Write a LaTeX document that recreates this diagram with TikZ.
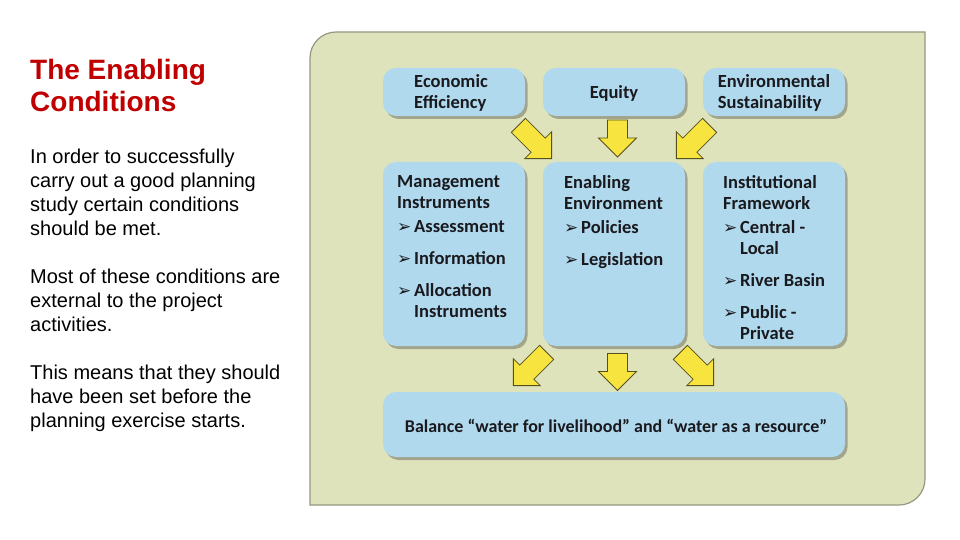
\documentclass[tikz,border=0pt]{standalone}
\usepackage{fontspec}
\setmainfont{Liberation Sans}
\newfontfamily\boxfont{Carlito}
\newfontfamily\symfont{DejaVu Sans}
\usetikzlibrary{shadows,calc}
\definecolor{titlered}{RGB}{192,0,0}
\definecolor{panelfill}{RGB}{222,227,188}
\definecolor{panelline}{RGB}{150,152,128}
\definecolor{boxblue}{RGB}{176,217,238}
\definecolor{arrowyellow}{RGB}{247,228,62}
\definecolor{arrowline}{RGB}{85,80,30}
\definecolor{boxtext}{RGB}{25,25,30}
\newcommand{\bul}{\makebox[17pt][l]{\symfont\fontsize{17}{17}\selectfont\char"27A2}}
\tikzset{
  box/.style={fill=boxblue, rounded corners=13pt, inner sep=0pt,
    drop shadow={shadow xshift=2.5pt, shadow yshift=-3pt, opacity=0.35, fill=black!80}},
  boxtxt/.style={text=boxtext, align=left, inner sep=0pt,
    font=\boxfont\bfseries\fontsize{18.5}{21}\selectfont},
  arrowstyle/.style={fill=arrowyellow, draw=arrowline, line width=0.8pt, line join=miter},
  blockarrow/.pic={
    \draw[arrowstyle] (-#1/2,-10) -- (#1/2-19,-10) -- (#1/2-19,-19) -- (#1/2,0)
      -- (#1/2-19,19) -- (#1/2-19,10) -- (-#1/2,10) -- cycle;}
}
\begin{document}
\begin{tikzpicture}[x=1pt,y=-1pt]
\useasboundingbox (0,0) rectangle (960,540);
\fill[white] (0,0) rectangle (960,540);

% left text
\node[anchor=base west, inner sep=0pt, align=left, text=titlered,
      font=\bfseries\fontsize{28}{32}\selectfont] (title) at (30,112)
      {The Enabling\\Conditions};
\node[anchor=north west, inner sep=0pt, align=left, text=black,
      font=\fontsize{20}{24}\selectfont] (body) at (30,149)
      {In order to successfully\\carry out a good planning\\study certain conditions\\should be met.\\[24pt]
       Most of these conditions are\\external to the project\\activities.\\[24pt]
       This means that they should\\have been set before the\\planning exercise starts.};

% panel
\draw[fill=panelfill, draw=panelline, line width=1.2pt]
  (310,505) -- (310,58) arc[start angle=180, end angle=270, radius=26]
  -- (925,32) -- (925,479) arc[start angle=0, end angle=90, radius=26] -- cycle;

% top row
\node[box, minimum width=142pt, minimum height=48pt] (eco) at (454,92) {};
\node[boxtxt] (ecot) at ($(eco.center)+(-3,1)$) {Economic\\Efficiency};
\node[box, minimum width=142pt, minimum height=48pt] (equ) at (614,92) {};
\node[boxtxt] (equt) at ($(equ.center)+(0,1)$) {Equity};
\node[box, minimum width=142pt, minimum height=48pt] (env) at (774,92) {};
\node[boxtxt] (envt) at ($(env.center)+(0,1)$) {Environmental\\Sustainability};

% middle row
\node[box, minimum width=142pt, minimum height=184pt] (mgmt) at (454,254) {};
\node[boxtxt, anchor=north west] (mgmtt) at (397,175)
  {Management\\Instruments\\[3pt]\bul Assessment\\[11pt]\bul Information\\[11pt]\bul Allocation\\\hspace*{17pt}Instruments};
\node[box, minimum width=142pt, minimum height=184pt] (enab) at (614,254) {};
\node[boxtxt, anchor=north west] (enabt) at (564,175)
  {Enabling\\Environment\\[3pt]\bul Policies\\[11pt]\bul Legislation};
\node[box, minimum width=142pt, minimum height=184pt] (inst) at (774,254) {};
\node[boxtxt, anchor=north west] (instt) at (723,175)
  {Institutional\\Framework\\[3pt]\bul Central -\\\hspace*{17pt}Local\\[11pt]\bul River Basin\\[11pt]\bul Public -\\\hspace*{17pt}Private};

% bottom
\node[box, minimum width=462pt, minimum height=65pt] (bal) at (614,424.5) {};
\node[boxtxt, font=\boxfont\bfseries\fontsize{18}{21}\selectfont] (balt) at ($(bal.center)+(2,1)$)
  {Balance “water for livelihood” and “water as a resource”};

% block arrows
\pic[rotate=-45]  at (535,142) {blockarrow=47};
\pic[rotate=-90]  at (617.5,138.5) {blockarrow=37};
\pic[rotate=-135] at (693,142) {blockarrow=47};
\pic[rotate=-135] at (530,369) {blockarrow=47};
\pic[rotate=-90]  at (617.5,372) {blockarrow=37};
\pic[rotate=-45]  at (697,369) {blockarrow=47};
\end{tikzpicture}
\end{document}
